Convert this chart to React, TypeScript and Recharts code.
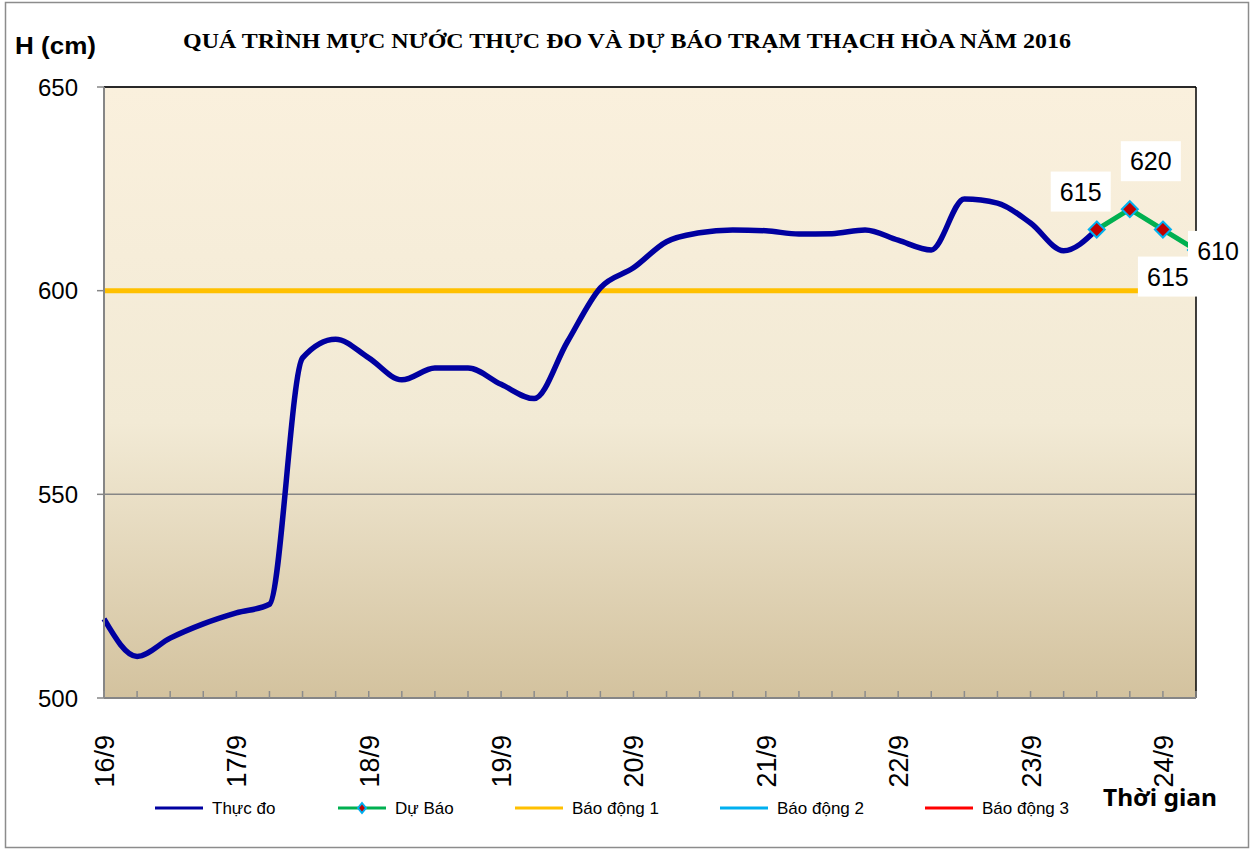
import { LineChart, Line, XAxis, YAxis, CartesianGrid, ReferenceLine, LabelList } from 'recharts';

// water level, 6-hour steps starting 16/9 00h
const dayLabels = ['16/9', '17/9', '18/9', '19/9', '20/9', '21/9', '22/9', '23/9', '24/9'];
const observed = [
  519.4, 510.2, 514.7, 518.2, 520.9, 523, 583.5, 588.1, 583.5, 578.1, 581, 581, 577, 573.5, 587.4, 600.7,
  605.6, 612, 614.2, 614.9, 614.7, 613.9, 614, 614.9, 612.4, 610, 622.5, 621.5, 616.6, 609.8, 615,
];
const forecastStart = 30;
const forecast = [615, 620, 615, 610];
const alarm1 = 600;
const yTicks = [500, 550, 600, 650];

const lastStep = forecastStart + forecast.length - 1;
const xTicks = Array.from({ length: lastStep + 1 }, (_, i) => i);

const data = xTicks.map((t) => ({
  t,
  thucDo: t < observed.length ? observed[t] : null,
  duBao: t >= forecastStart ? forecast[t - forecastStart] : null,
  bd1: alarm1,
}));

// where each forecast value label sits relative to its point
const labelOffsets = [
  [-16, -38],
  [21, -48],
  [5, 47],
  [22, 1],
];

const legendItems = [
  { name: 'Thực đo', color: '#0000A0', x: 155, marker: false },
  { name: 'Dự Báo', color: '#00B050', x: 338, marker: true },
  { name: 'Báo động 1', color: '#FFC000', x: 515, marker: false },
  { name: 'Báo động 2', color: '#00B0F0', x: 720, marker: false },
  { name: 'Báo động 3', color: '#FF0000', x: 925, marker: false },
];

const XTick = (props: any) => {
  const { x, y, payload } = props;
  const t = payload.value;
  return (
    <g>
      <line x1={x} x2={x} y1={y} y2={y - 7} stroke="#8c8c8c" strokeWidth={1.5} />
      {t % 4 === 0 && (
        <text
          transform={`translate(${x + 10},${y + 37}) rotate(-90)`}
          textAnchor="end"
          fontSize={27}
          fontFamily="Liberation Sans, Arial"
          fill="#000"
        >
          {dayLabels[t / 4]}
        </text>
      )}
    </g>
  );
};

const Diamond = (props: any) => {
  const { cx, cy } = props;
  if (cx == null || cy == null || props.value == null) return null;
  const r = 8;
  return (
    <polygon
      points={`${cx},${cy - r} ${cx + r},${cy} ${cx},${cy + r} ${cx - r},${cy}`}
      fill="#C00000"
      stroke="#00B0F0"
      strokeWidth={2}
    />
  );
};

const ForecastLabel = (props: any) => {
  const { x, y, value, index } = props;
  if (value == null) return null;
  const off = labelOffsets[index - forecastStart];
  if (!off) return null;
  const cx = x + off[0];
  const cy = y + off[1];
  return (
    <g>
      <rect x={cx - 30} y={cy - 20} width={60} height={40} fill="#fff" />
      <text x={cx} y={cy + 9} textAnchor="middle" fontSize={25} fontFamily="Liberation Sans, Arial" fill="#000">
        {value}
      </text>
    </g>
  );
};

export default function App() {
  return (
    <div style={{ position: 'absolute', left: 0, top: 0, width: 1256, height: 850, background: '#fff' }}>
      <LineChart
        width={1256}
        height={850}
        data={data}
        margin={{ top: 87, right: 60, bottom: 72, left: 44 }}
      >
        <defs>
          <linearGradient id="plotBg" x1="0" y1="0" x2="0" y2="1">
            <stop offset="0%" stopColor="#FAF0DD" />
            <stop offset="55%" stopColor="#F2EAD5" />
            <stop offset="100%" stopColor="#D3C29E" />
          </linearGradient>
        </defs>
        <CartesianGrid vertical={false} fill="url(#plotBg)" stroke="#868686" strokeWidth={1.5} />
        <XAxis
          type="number"
          dataKey="t"
          domain={[0, lastStep]}
          ticks={xTicks}
          interval={0}
          height={80}
          tickSize={0}
          tickMargin={0}
          tickLine={false}
          tick={<XTick />}
          axisLine={{ stroke: '#868686', strokeWidth: 2 }}
        />
        <YAxis
          domain={[500, 650]}
          ticks={yTicks}
          width={60}
          tickSize={7}
          tickMargin={19}
          tick={{ fontSize: 24, fill: '#000', fontFamily: 'Liberation Sans, Arial' }}
          tickLine={{ stroke: '#868686', strokeWidth: 1.5 }}
          axisLine={{ stroke: '#868686', strokeWidth: 2 }}
        />
        <ReferenceLine y={650} stroke="#000" strokeWidth={1.5} />
        <ReferenceLine x={lastStep} stroke="#000" strokeWidth={1.5} />
        <Line
          dataKey="bd1"
          stroke="#FFC000"
          strokeWidth={5}
          dot={false}
          isAnimationActive={false}
        />
        <Line
          type="monotone"
          dataKey="thucDo"
          stroke="#0000A0"
          strokeWidth={5.5}
          dot={false}
          connectNulls={false}
          isAnimationActive={false}
        />
        <Line
          dataKey="duBao"
          stroke="#00B050"
          strokeWidth={5}
          dot={<Diamond />}
          isAnimationActive={false}
        >
          <LabelList dataKey="duBao" content={<ForecastLabel />} />
        </Line>
      </LineChart>
      <svg
        width={1256}
        height={850}
        style={{ position: 'absolute', left: 0, top: 0, pointerEvents: 'none' }}
      >
        <rect x={5.5} y={2.5} width={1243} height={845} fill="none" stroke="#8c8c8c" strokeWidth={1.5} />
        <text
          x={15}
          y={54}
          fontSize={23}
          fontWeight="bold"
          fontFamily="Liberation Sans, Arial"
          textLength={81}
          lengthAdjust="spacingAndGlyphs"
        >
          H (cm)
        </text>
        <text
          x={627}
          y={48}
          textAnchor="middle"
          fontSize={22}
          fontWeight="bold"
          fontFamily="Liberation Serif, Times New Roman"
          textLength={888}
          lengthAdjust="spacingAndGlyphs"
        >
          QUÁ TRÌNH MỰC NƯỚC THỰC ĐO VÀ DỰ BÁO TRẠM THẠCH HÒA NĂM 2016
        </text>
        {legendItems.map((it) => (
          <g key={it.name}>
            <line x1={it.x} x2={it.x + 48} y1={808} y2={808} stroke={it.color} strokeWidth={3} />
            {it.marker && (
              <polygon
                points={`${it.x + 24},${803} ${it.x + 28},${808} ${it.x + 24},${813} ${it.x + 20},${808}`}
                fill="#C00000"
                stroke="#00B0F0"
                strokeWidth={2}
              />
            )}
            <text x={it.x + 57} y={814} fontSize={17} fontFamily="Liberation Sans, Arial" fill="#000">
              {it.name}
            </text>
          </g>
        ))}
        <text
          x={1103}
          y={806}
          fontSize={24}
          fontWeight="bold"
          fontFamily="Noto Sans, Open Sans"
          textLength={114}
          lengthAdjust="spacingAndGlyphs"
        >
          Thời gian
        </text>
      </svg>
    </div>
  );
}
